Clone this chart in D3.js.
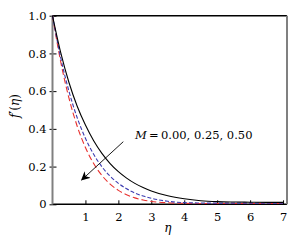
<!DOCTYPE html>

<head>
   <title>Velocity profile f'(eta)</title>
   <meta charset="utf-8">
   <script src="https://d3js.org/d3.v7.min.js"></script>
   <style>
      body {
         margin: 0;
         background: #ffffff;
      }

      svg text {
         font-family: "DejaVu Serif", serif;
         fill: #000000;
      }

      .tick line {
         stroke: #000000;
      }

      path.domain {
         display: none;
      }
   </style>
</head>

<body>
   <script>
      const width = 299;
      const height = 241;

      // eta grid and f'(eta), one array per M
      const eta = [0, 0.25, 0.5, 0.75, 1, 1.25, 1.5, 1.75, 2, 2.25, 2.5, 2.75, 3, 3.5, 4, 4.5, 5, 5.5, 6, 6.5, 7];
      const fM000 = [1, 0.804, 0.646, 0.520, 0.420, 0.337, 0.270, 0.216, 0.173, 0.139, 0.111, 0.089, 0.071, 0.045, 0.029, 0.019, 0.014, 0.012, 0.011, 0.010, 0.010];
      const fM025 = [1, 0.776, 0.599, 0.459, 0.350, 0.265, 0.199, 0.149, 0.111, 0.082, 0.060, 0.044, 0.032, 0.016, 0.009, 0.007, 0.006, 0.006, 0.006, 0.006, 0.006];
      const fM050 = [1, 0.755, 0.563, 0.414, 0.301, 0.216, 0.153, 0.107, 0.074, 0.051, 0.034, 0.023, 0.015, 0.008, 0.005, 0.004, 0.004, 0.004, 0.004, 0.004, 0.004];

      const xTicks = [1, 2, 3, 4, 5, 6, 7];
      const yTicks = [0, 0.2, 0.4, 0.6, 0.8, 1.0];

      const series = [
         { name: 'M=0.00', values: fM000, colour: '#000000', dash: null },
         { name: 'M=0.25', values: fM025, colour: '#3b3bb0', dash: '4,2' },
         { name: 'M=0.50', values: fM050, colour: '#e8302e', dash: '6,3' }
      ];

      const margin = { top: 15.7, right: 12, bottom: 36.7, left: 52.5 };

      const svg = d3.select('body').append('svg')
         .attr('width', width)
         .attr('height', height);

      const x = d3.scaleLinear()
         .domain([0, 7.12])
         .range([margin.left, width - margin.right]);

      const y = d3.scaleLinear()
         .domain([0, 1])
         .range([height - margin.bottom, margin.top]);

      // axes, ticks drawn inward
      const xAxis = svg.append('g')
         .attr('transform', `translate(0, ${y(0)})`)
         .call(d3.axisBottom(x).tickValues(xTicks).tickSize(-4).tickPadding(9).tickFormat(d3.format('d')));

      const yAxis = svg.append('g')
         .attr('transform', `translate(${x(0)}, 0)`)
         .call(d3.axisLeft(y).tickValues(yTicks).tickSize(3).tickPadding(3)
            .tickFormat(d => d === 0 ? '0' : d3.format('.1f')(d)));

      xAxis.attr('font-family', null).attr('font-size', null);
      yAxis.attr('font-family', null).attr('font-size', null);
      svg.selectAll('.tick text').style('font-size', '11.5px');

      // inner half of the left ticks
      yAxis.selectAll('.tick')
         .append('line')
         .attr('x1', 0)
         .attr('x2', 4)
         .attr('stroke', '#000000');

      // frame
      svg.append('line')
         .attr('x1', x.range()[0]).attr('x2', x.range()[1])
         .attr('y1', y(1)).attr('y2', y(1))
         .attr('stroke', '#000000').attr('stroke-width', 1.5);
      svg.append('line')
         .attr('x1', x.range()[0]).attr('x2', x.range()[1])
         .attr('y1', y(0)).attr('y2', y(0))
         .attr('stroke', '#000000').attr('stroke-width', 1.5);
      svg.append('line')
         .attr('x1', x.range()[0]).attr('x2', x.range()[0])
         .attr('y1', y(1)).attr('y2', y(0))
         .attr('stroke', '#808080').attr('stroke-width', 2);
      svg.append('line')
         .attr('x1', x.range()[1]).attr('x2', x.range()[1])
         .attr('y1', y(1)).attr('y2', y(0))
         .attr('stroke', '#808080').attr('stroke-width', 2);

      const line = d3.line()
         .x((d, i) => x(eta[i]))
         .y(d => y(d))
         .curve(d3.curveMonotoneX);

      svg.selectAll('path.curve')
         .data(series.slice().reverse())
         .enter()
         .append('path')
         .attr('class', 'curve')
         .attr('d', d => line(d.values))
         .attr('fill', 'none')
         .attr('stroke', d => d.colour)
         .attr('stroke-width', 1.1)
         .attr('stroke-dasharray', d => d.dash);

      // arrow annotation
      const defs = svg.append('defs');
      defs.append('marker')
         .attr('id', 'head')
         .attr('viewBox', '0 0 10 10')
         .attr('refX', 9)
         .attr('refY', 5)
         .attr('markerWidth', 9)
         .attr('markerHeight', 9)
         .attr('markerUnits', 'userSpaceOnUse')
         .attr('orient', 'auto')
         .append('path')
         .attr('d', 'M0,0 L10,5 L0,10 L3,5 Z')
         .attr('fill', '#000000');

      svg.append('line')
         .attr('x1', x(2.15)).attr('y1', y(0.332))
         .attr('x2', x(0.885)).attr('y2', y(0.129))
         .attr('stroke', '#000000')
         .attr('stroke-width', 0.9)
         .attr('marker-end', 'url(#head)');

      const label = svg.append('text')
         .attr('x', 135)
         .attr('y', 138.5)
         .style('font-size', '11.5px');
      label.append('tspan').style('font-style', 'italic').text('M');
      label.append('tspan').text('\u2009=\u20090.00, 0.25, 0.50');

      // axis titles
      svg.append('text')
         .attr('x', x(3.5))
         .attr('y', 232)
         .style('text-anchor', 'middle')
         .style('font-style', 'italic')
         .style('font-size', '12px')
         .text('\u03b7');

      const yTitle = svg.append('text')
         .attr('transform', `translate(19, ${(y(0) + y(1)) / 2 - 4}) rotate(-90)`)
         .style('text-anchor', 'middle')
         .style('font-size', '12px');
      yTitle.append('tspan').style('font-style', 'italic').text('f');
      yTitle.append('tspan').text('\u2032(');
      yTitle.append('tspan').style('font-style', 'italic').text('\u03b7');
      yTitle.append('tspan').text(')');
   </script>
</body>
